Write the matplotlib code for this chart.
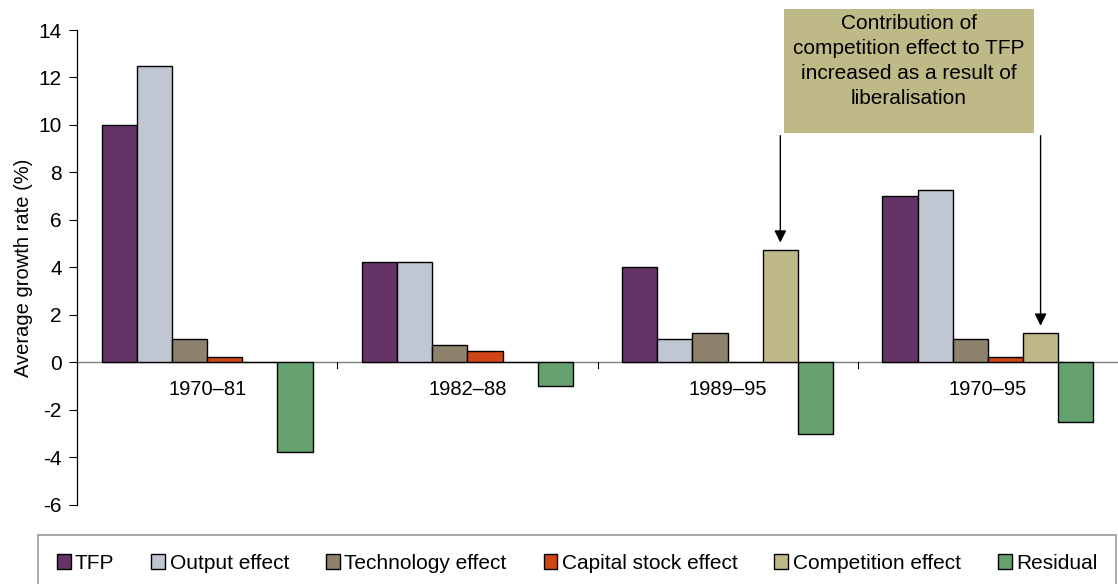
import matplotlib
matplotlib.use("Agg")
import matplotlib.pyplot as plt
import numpy as np
from matplotlib.patches import Rectangle

plt.rcParams['font.family'] = ['Liberation Sans', 'DejaVu Sans']

periods = ["1970\u201381", "1982\u201388", "1989\u201395", "1970\u201395"]
series_names = ["TFP", "Output effect", "Technology effect", "Capital stock effect",
                "Competition effect", "Residual"]
tfp = [10.0, 4.25, 4.0, 7.0]
output_effect = [12.5, 4.25, 1.0, 7.25]
technology_effect = [1.0, 0.75, 1.25, 1.0]
capital_stock_effect = [0.25, 0.5, 0.0, 0.25]
competition_effect = [0.0, 0.0, 4.75, 1.25]
residual = [-3.75, -1.0, -3.0, -2.5]
colors = ["#663366", "#C0C7D3", "#8F826D", "#D04515", "#BFB987", "#65A06F"]
yticks = list(range(-6, 15, 2))

data = [tfp, output_effect, technology_effect, capital_stock_effect,
        competition_effect, residual]

fig = plt.figure(figsize=(11.18, 5.84), dpi=100)
ax = fig.add_axes([77/1118, 1-505/584, 1041/1118, 475/584])

x = np.arange(len(periods))
w = 0.135
for i, (vals, c, name) in enumerate(zip(data, colors, series_names)):
    ax.bar(x + (i - 2.5) * w, vals, width=w, color=c, edgecolor="black",
           linewidth=1.0, label=name, zorder=3)

ax.set_xlim(-0.5, 3.5)
ax.set_ylim(-6, 14)
ax.set_yticks(yticks)
ax.set_yticklabels([str(t) for t in yticks], fontsize=15)
ax.tick_params(axis='y', length=6, width=0.8, color="black", pad=5)
ax.set_ylabel("Average growth rate (%)", fontsize=14.5, labelpad=4)

for s in ["top", "right", "bottom"]:
    ax.spines[s].set_visible(False)
ax.spines["left"].set_linewidth(0.9)

# zero line with category ticks
ax.axhline(0, color="#808080", linewidth=1.0, zorder=2)
ax.set_xticks([])
for b in [0.5, 1.5, 2.5]:
    ax.plot([b, b], [0, -0.22], color="black", linewidth=0.8, zorder=2)
for xi, p in zip(x, periods):
    ax.text(xi, -1.15, p, ha="center", va="center", fontsize=14.5)

# annotation box
fig.patches.append(Rectangle((784/1118, 1-133/584), 250/1118, 124/584,
                             transform=fig.transFigure, facecolor="#BFB987",
                             edgecolor="none", zorder=5))
fig.text(909/1118, 1-61/584,
         "Contribution of\ncompetition effect to TFP\nincreased as a result of\nliberalisation",
         ha="center", va="center", fontsize=15, linespacing=1.42, zorder=6)

# arrows from box to competition bars
comp_idx = 4
for ci, tip in [(2, 4.75), (3, 1.25)]:
    xb = ci + (comp_idx - 2.5) * w
    ax.annotate("", xy=(xb, tip + 0.3), xytext=(xb, 9.55),
                arrowprops=dict(arrowstyle="-|>", color="black", lw=1.0,
                                mutation_scale=18, shrinkA=0, shrinkB=0),
                annotation_clip=False)

leg = fig.legend(loc="upper left", bbox_to_anchor=(38/1118, 1-535/584),
                 ncol=6, fontsize=15, frameon=True, fancybox=False,
                 edgecolor="#808080", handlelength=0.67, handleheight=0.67,
                 handletextpad=0.2, columnspacing=1.78, borderaxespad=0.0,
                 borderpad=0.9)
leg.get_frame().set_linewidth(1.2)

fig.savefig("out.png", dpi=100)
